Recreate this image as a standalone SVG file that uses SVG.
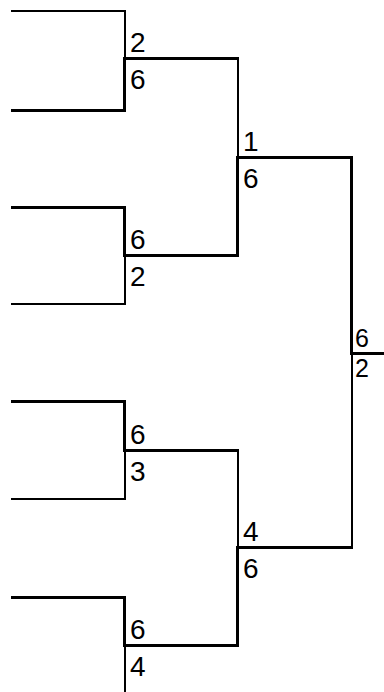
<svg xmlns="http://www.w3.org/2000/svg" width="384" height="692" viewBox="0 0 384 692">
<style>
.thin{stroke:#000;stroke-width:2;fill:none}
.thick{stroke:#000;stroke-width:3;fill:none}
text{font-family:"Liberation Sans",Arial,sans-serif;font-size:28px;fill:#000}
text.fin{font-size:25px}
</style>
<rect width="384" height="692" fill="#fff"/>
<g id="connectors">
<path class="thin" d="M11,11H126M125,10V58.5"/>
<path class="thick" d="M11,110.5H126M124.5,57V112"/>
<path class="thick" d="M11,207.5H126M124.5,206V257"/>
<path class="thin" d="M11,304H126M125,255.5V305"/>
<path class="thick" d="M11,401.5H126M124.5,400V452"/>
<path class="thin" d="M11,499H126M125,450.5V500"/>
<path class="thick" d="M11,597.5H126M124.5,596V647"/>
<path class="thin" d="M125,645.5V694"/>
<path class="thick" d="M123,58.5H239M123,255.5H239M123,450.5H239M123,645.5H239"/>
<path class="thin" d="M238,57V157.5M238,450.5V547.5"/>
<path class="thick" d="M237.5,156V257M237.5,546V647"/>
<path class="thick" d="M236,157.5H353M236,547.5H353"/>
<path class="thick" d="M351.5,156V355"/>
<path class="thin" d="M352,353.5V549"/>
<path class="thick" d="M350,353.5H384"/>
</g>
<g id="match-r1-1"><text x="130" y="52">2</text><text x="130" y="89">6</text></g>
<g id="match-r1-2"><text x="130" y="249">6</text><text x="130" y="286">2</text></g>
<g id="match-r1-3"><text x="130" y="444">6</text><text x="130" y="481">3</text></g>
<g id="match-r1-4"><text x="130" y="639">6</text><text x="130" y="676">4</text></g>
<g id="match-r2-1"><text x="243" y="151">1</text><text x="243" y="188">6</text></g>
<g id="match-r2-2"><text x="243" y="541">4</text><text x="243" y="578">6</text></g>
<g id="match-final"><text class="fin" x="355" y="347">6</text><text class="fin" x="355" y="377">2</text></g>
</svg>
